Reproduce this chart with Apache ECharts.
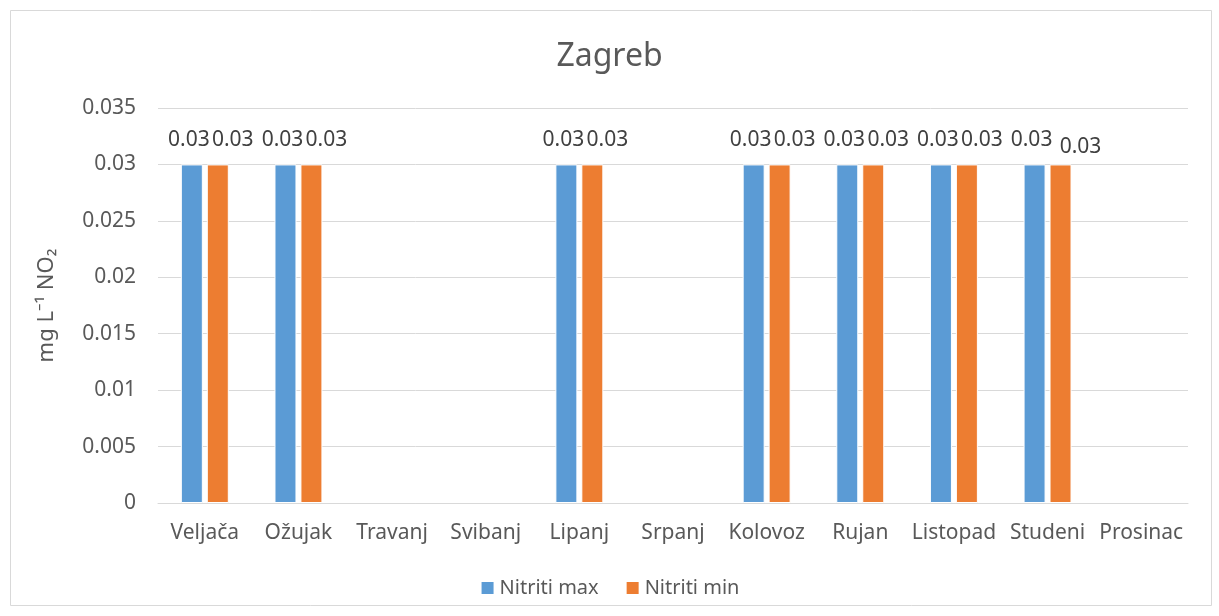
<!DOCTYPE html>
<html lang="hr">
<head>
    <meta charset="UTF-8">
    <title>Zagreb</title>
    <script src="https://cdn.jsdelivr.net/npm/echarts@6.0.0/dist/echarts.min.js"></script>
    <style>
        body { margin: 0; background: #ffffff; }
        #main { width: 1219px; height: 616px; }
    </style>
</head>
<body>
    <div id="main"></div>
    <script type="text/javascript">
        // podaci
        var months = ['Veljača', 'Ožujak', 'Travanj', 'Svibanj', 'Lipanj', 'Srpanj', 'Kolovoz', 'Rujan', 'Listopad', 'Studeni', 'Prosinac'];
        var nitritiMax = [0.03, 0.03, null, null, 0.03, null, 0.03, 0.03, 0.03, 0.03, null];
        var nitritiMin = [0.03, 0.03, null, null, 0.03, null, 0.03, 0.03, 0.03, 0.03, null];
        var yTicks = { min: 0, max: 0.035, interval: 0.005 };

        var font = 'Noto Sans';
        var grey = '#595959';

        var myChart = echarts.init(document.getElementById('main'));

        // Studeni min label sits a bit lower in the original
        var minData = nitritiMin.map(function (v, i) {
            if (months[i] === 'Studeni') {
                return { value: v, label: { offset: [20, 7] } };
            }
            return v;
        });

        function labelStyle(dx) {
            return {
                show: true,
                position: 'top',
                distance: 14,
                offset: [dx, 0],
                color: '#404040',
                fontFamily: font,
                fontSize: 21
            };
        }

        var option = {
            animation: false,
            backgroundColor: '#ffffff',
            title: {
                text: 'Zagreb',
                left: 'center',
                top: 36,
                textStyle: { color: grey, fontFamily: font, fontSize: 32, fontWeight: 'normal' }
            },
            graphic: [{
                type: 'rect',
                shape: { x: 10.5, y: 10.5, width: 1201, height: 595 },
                style: { fill: 'none', stroke: '#d9d9d9', lineWidth: 1 },
                z: -1
            }],
            legend: {
                bottom: 13,
                left: 'center',
                itemWidth: 14,
                itemHeight: 14,
                itemGap: 26,
                icon: 'rect',
                textStyle: { color: grey, fontFamily: font, fontSize: 20 },
                data: ['Nitriti max', 'Nitriti min']
            },
            grid: { left: 158, right: 31, top: 108, bottom: 113 },
            xAxis: {
                type: 'category',
                data: months,
                axisLine: { lineStyle: { color: '#d9d9d9', width: 1 } },
                axisTick: { show: false },
                axisLabel: { color: grey, fontFamily: font, fontSize: 21, margin: 20, interval: 0 }
            },
            yAxis: {
                type: 'value',
                min: yTicks.min,
                max: yTicks.max,
                interval: yTicks.interval,
                name: 'mg L⁻¹ NO₂',
                nameLocation: 'middle',
                nameGap: 100,
                nameTextStyle: { color: grey, fontFamily: font, fontSize: 22 },
                axisLine: { show: false },
                axisTick: { show: false },
                splitLine: { lineStyle: { color: '#d9d9d9', width: 1 } },
                axisLabel: {
                    color: grey, fontFamily: font, fontSize: 21, margin: 22,
                    formatter: function (v) { return String(parseFloat(v.toFixed(3))); }
                }
            },
            series: [
                {
                    name: 'Nitriti max',
                    type: 'bar',
                    data: nitritiMax,
                    barWidth: 22,
                    barGap: '18%',
                    itemStyle: { color: '#5b9bd5', borderColor: '#ffffff', borderWidth: 1 },
                    label: labelStyle(-3)
                },
                {
                    name: 'Nitriti min',
                    type: 'bar',
                    data: minData,
                    barWidth: 22,
                    itemStyle: { color: '#ed7d31', borderColor: '#ffffff', borderWidth: 1 },
                    label: labelStyle(15)
                }
            ]
        };

        myChart.setOption(option);
    </script>
</body>
</html>
